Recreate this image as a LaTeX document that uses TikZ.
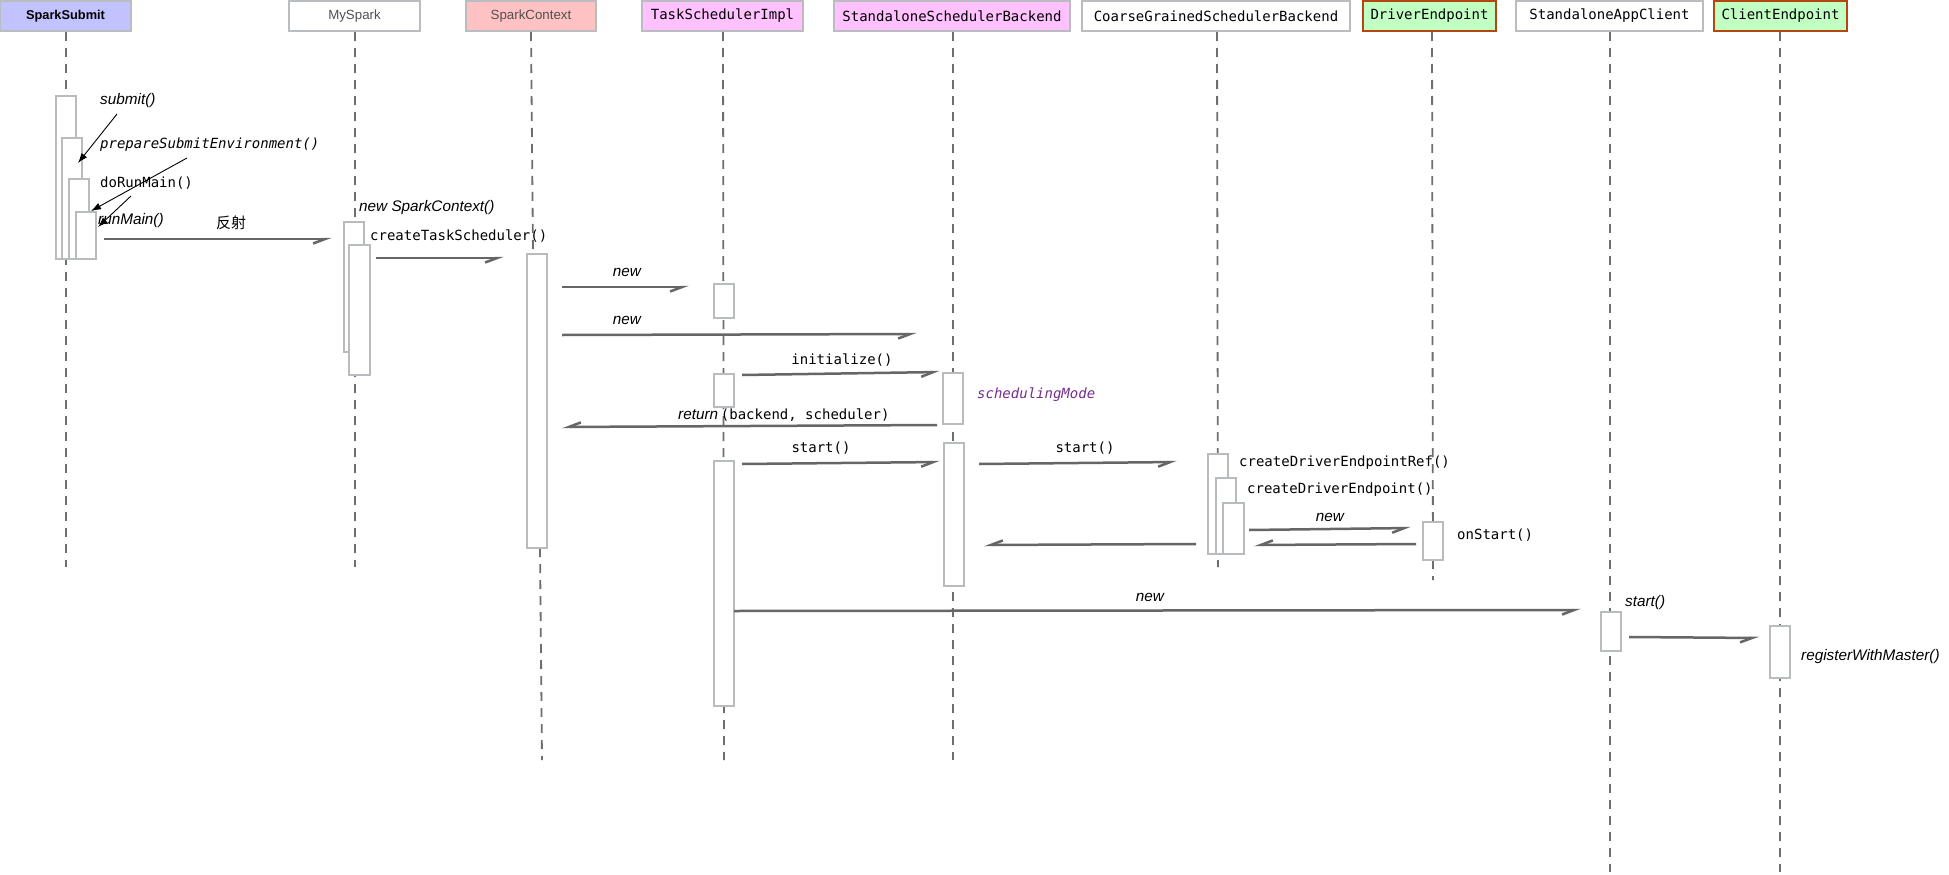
\documentclass[tikz,border=0pt]{standalone}
\usepackage{fontspec}
\setmainfont{Liberation Sans}
\newfontfamily\monof{DejaVu Sans Mono}
\newfontfamily\cjkf{Noto Sans CJK SC}
\usetikzlibrary{arrows.meta}
\definecolor{hdrgray}{HTML}{B9BDC0}
\definecolor{actgray}{HTML}{B8BCBE}
\definecolor{lifegray}{HTML}{6E6E6E}
\definecolor{msggray}{HTML}{666666}
\definecolor{lav}{HTML}{C2C2FF}
\definecolor{rosa}{HTML}{FFC2C2}
\definecolor{magl}{HTML}{FFC2FF}
\definecolor{grn}{HTML}{C2FFC2}
\definecolor{rust}{HTML}{B5460F}
\definecolor{purp}{HTML}{752D8F}
\definecolor{txtgray}{HTML}{505050}
\begin{document}
\begin{tikzpicture}[x=1pt,y=-1pt,
  hdr/.style={draw=hdrgray, line width=2.5pt, minimum height=30pt, inner sep=0pt},
  ghdr/.style={hdr, draw=rust, fill=grn},
  act/.style={draw=actgray, fill=white, line width=2pt, inner sep=0pt},
  life/.style={draw=lifegray, line width=1.8pt, dash pattern=on 9pt off 7pt},
  msg/.style={draw=msggray, line width=2.5pt, -{Straight Barb[right,length=12pt,width=9pt]}},
  call/.style={draw=black, line width=0.9pt, -{Latex[length=10pt,width=7pt]}},
  lbl/.style={inner sep=0pt, anchor=west},
  clbl/.style={inner sep=0pt},
  it/.style={font=\fontsize{15.3}{18}\selectfont\itshape},
  mn/.style={font=\fontsize{14}{16}\selectfont\monof},
  mni/.style={font=\fontsize{14}{16}\selectfont\monof\itshape},
  hsans/.style={font=\fontsize{13.3}{16}\selectfont, text=txtgray},
]
\useasboundingbox (0,0) rectangle (1949,875);
\fill[white] (0,0) rectangle (1949,875);

% headers
\node[hdr, fill=lav, minimum width=131pt, font=\fontsize{12.8}{15}\selectfont\bfseries] (h1) at (65.5,16) {SparkSubmit};
\node[hdr, fill=white, minimum width=131pt, hsans] (h2) at (354.5,16) {MySpark};
\node[hdr, fill=rosa, minimum width=130pt, hsans] (h3) at (531,16) {SparkContext};
\node[hdr, fill=magl, minimum width=161pt, mn] (h4) at (722.5,16) {TaskSchedulerImpl};
\node[hdr, fill=magl, minimum width=236pt, mn] (h5) at (952,16) {StandaloneSchedulerBackend};
\node[hdr, fill=white, minimum width=268pt, mn] (h6) at (1216,16) {CoarseGrainedSchedulerBackend};
\node[ghdr, minimum width=133pt, mn] (h7) at (1429.5,16) {DriverEndpoint};
\node[hdr, fill=white, minimum width=187pt, mn] (h8) at (1609.5,16) {StandaloneAppClient};
\node[ghdr, minimum width=133pt, mn] (h9) at (1780.5,16) {ClientEndpoint};

% lifeline ends
\coordinate (e1) at (66,567);
\coordinate (e2) at (355,567);
\coordinate (e3a) at (533,254);
\coordinate (e3b) at (540,548);
\coordinate (e3c) at (542,760);
\coordinate (e4) at (724,760);
\coordinate (e5) at (953,760);
\coordinate (e6) at (1218,567);
\coordinate (e7) at (1433,580);
\coordinate (e8) at (1610,872);
\coordinate (e9) at (1780,872);

\draw[life] (66,32) -- (e1);
\draw[life] (355,32) -- (e2);
\draw[life] (531,32) -- (e3a);
\draw[life] (e3b) -- (e3c);
\draw[life] (723,32) -- (e4);
\draw[life] (953,32) -- (e5);
\draw[life] (1217,32) -- (e6);
\draw[life] (1432,32) -- (e7);
\draw[life] (1610,32) -- (e8);
\draw[life] (1780,32) -- (e9);

% activation boxes
\node[act, minimum width=20pt, minimum height=163pt] (s1) at (66,177.5) {};
\node[act, minimum width=20pt, minimum height=121pt] (s2) at (72,198.5) {};
\node[act, minimum width=20pt, minimum height=80pt] (s3) at (79,219) {};
\node[act, minimum width=20pt, minimum height=47pt] (s4) at (86,235.5) {};
\node[act, minimum width=20pt, minimum height=130pt] (m1) at (354,287) {};
\node[act, minimum width=21pt, minimum height=130pt] (m2) at (359.5,310) {};
\node[act, minimum width=20pt, minimum height=294pt] (c1) at (537,401) {};
\node[act, minimum width=20pt, minimum height=34pt] (t1) at (724,301) {};
\node[act, minimum width=20pt, minimum height=33pt] (t2) at (724,390.5) {};
\node[act, minimum width=20pt, minimum height=245pt] (t3) at (724,583.5) {};
\node[act, minimum width=20pt, minimum height=51pt] (b1) at (953,398.5) {};
\node[act, minimum width=20pt, minimum height=143pt] (b2) at (954,514.5) {};
\node[act, minimum width=20pt, minimum height=100pt] (g1) at (1218,504) {};
\node[act, minimum width=20pt, minimum height=76pt] (g2) at (1226,516) {};
\node[act, minimum width=21pt, minimum height=51pt] (g3) at (1233.5,528.5) {};
\node[act, minimum width=20pt, minimum height=38pt] (d1) at (1433,541) {};
\node[act, minimum width=20pt, minimum height=39pt] (a1) at (1611,631.5) {};
\node[act, minimum width=20pt, minimum height=52pt] (ce1) at (1780,652) {};

% call chain on SparkSubmit
\node[lbl, it] (lsubmit) at (100,101) {submit()};
\node[lbl, mni] (lprep) at (100,145) {prepareSubmitEnvironment()};
\node[lbl, mn] (ldorun) at (100,183) {doRunMain()};
\node[lbl, it] (lrunmain) at (98,221) {runMain()};
\coordinate (c1a) at (117,114); \coordinate (c1b) at (78,163);
\coordinate (c2a) at (187,158); \coordinate (c2b) at (91,211);
\coordinate (c3a) at (131,196); \coordinate (c3b) at (98,227);
\draw[call] (c1a) -- (c1b);
\draw[call] (c2a) -- (c2b);
\draw[call] (c3a) -- (c3b);

% reflection call
\coordinate (r1a) at (104,239); \coordinate (r1b) at (332,239);
\draw[msg] (r1a) -- (r1b);
\node[clbl, font=\fontsize{15}{18}\selectfont\cjkf] (lrefl) at (231,223) {反射};

\node[lbl, it] (lnewsc) at (359,208) {new SparkContext()};
\node[lbl, mn] (lcts) at (370,236) {createTaskScheduler()};
\coordinate (r2a) at (376,258); \coordinate (r2b) at (504,258);
\draw[msg] (r2a) -- (r2b);

% new TaskSchedulerImpl
\coordinate (r3a) at (562,287); \coordinate (r3b) at (689,287);
\draw[msg] (r3a) -- (r3b);
\node[clbl, it] (lnew1) at (627,272) {new};
% new StandaloneSchedulerBackend
\coordinate (r4a) at (562,335); \coordinate (r4b) at (917,334);
\draw[msg] (r4a) -- (r4b);
\node[clbl, it] (lnew2) at (627,320) {new};

% initialize
\coordinate (r5a) at (742,375); \coordinate (r5b) at (940,372);
\draw[msg] (r5a) -- (r5b);
\node[clbl, mn] (linit) at (842,360) {initialize()};
\node[lbl, mni, text=purp] (lsched) at (977,395) {schedulingMode};

% return
\coordinate (r6a) at (937,425); \coordinate (r6b) at (562,427);
\draw[msg] (r6a) -- (r6b);
\node[lbl] (lret) at (678,415) {{\fontsize{15.3}{18}\selectfont\itshape return} {\fontsize{14}{16}\selectfont\monof (backend, scheduler)}};

% start calls
\coordinate (r7a) at (742,464); \coordinate (r7b) at (940,462);
\draw[msg] (r7a) -- (r7b);
\node[clbl, mn] (lstart1) at (821,448) {start()};
\coordinate (r8a) at (979,464); \coordinate (r8b) at (1177,462);
\draw[msg] (r8a) -- (r8b);
\node[clbl, mn] (lstart2) at (1085,448) {start()};

\node[lbl, mn] (lcder) at (1239,463) {createDriverEndpointRef()};
\node[lbl, mn] (lcde) at (1247,490) {createDriverEndpoint()};

\coordinate (r9a) at (1249,530); \coordinate (r9b) at (1411,528);
\draw[msg] (r9a) -- (r9b);
\node[clbl, it] (lnew3) at (1330,517) {new};
\coordinate (r10a) at (1416,544); \coordinate (r10b) at (1254,545);
\draw[msg] (r10a) -- (r10b);
\node[lbl, mn] (lonstart) at (1457,535) {onStart()};
\coordinate (r11a) at (1196,544); \coordinate (r11b) at (984,545);
\draw[msg] (r11a) -- (r11b);

% new StandaloneAppClient
\coordinate (r12a) at (734,611); \coordinate (r12b) at (1581,610);
\draw[msg] (r12a) -- (r12b);
\node[clbl, it] (lnew4) at (1150,597) {new};
\node[lbl, it] (lstart3) at (1625,603) {start()};
\coordinate (r13a) at (1629,637); \coordinate (r13b) at (1759,638);
\draw[msg] (r13a) -- (r13b);
\node[lbl, it] (lreg) at (1801,657) {registerWithMaster()};
\end{tikzpicture}
\end{document}
